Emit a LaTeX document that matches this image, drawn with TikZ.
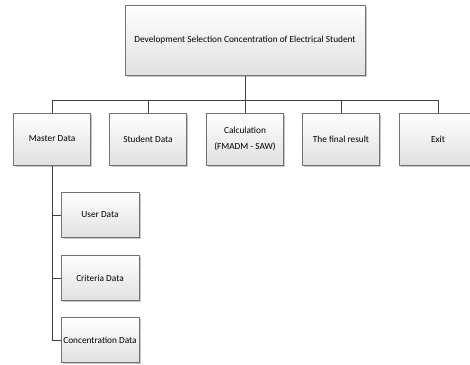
\documentclass[tikz,border=0pt]{standalone}
\usepackage{fontspec}
\setmainfont{Carlito}
\usetikzlibrary{shadows}

\tikzset{
  menubox/.style={draw=black!55, line width=1pt, top color=white, bottom color=black!12,
    drop shadow={shadow xshift=1.5pt, shadow yshift=-1.5pt, fill=black!45},
    align=center, font=\fontsize{9.3}{10}\selectfont, inner sep=1pt},
  link/.style={draw=black!75, line width=0.9pt}
}

\begin{document}
\begin{tikzpicture}[x=1pt, y=-1pt]
  \useasboundingbox (0,0) rectangle (470,364);
  \node[menubox, minimum width=240pt, minimum height=70pt] (top) at (245,40) {Development Selection Concentration of Electrical Student};
  \node[menubox, minimum width=77pt, minimum height=52pt] (master) at (52,139) {Master Data};
  \node[menubox, minimum width=77pt, minimum height=52pt] (student) at (148,139) {Student Data};
  \node[menubox, minimum width=77pt, minimum height=52pt] (calc) at (245,139) {Calculation\\[6pt](FMADM - SAW)};
  \node[menubox, minimum width=77pt, minimum height=52pt] (final) at (341,139) {The final result};
  \node[menubox, minimum width=77pt, minimum height=52pt] (exit) at (438,139) {Exit};
  \node[menubox, minimum width=78pt, minimum height=45pt] (user) at (100,215) {User Data};
  \node[menubox, minimum width=78pt, minimum height=45pt] (criteria) at (100,278) {Criteria Data};
  \node[menubox, minimum width=78pt, minimum height=45pt] (conc) at (100,340) {Concentration Data};

  \coordinate (bus) at (245,100);
  \draw[link] (top.south) -- (bus);
  \foreach \n in {master,student,calc,final,exit}
    \draw[link] (bus) -| (\n.north);
  \foreach \n in {user,criteria,conc}
    \draw[link] (master.south) |- (\n.west);
\end{tikzpicture}
\end{document}
